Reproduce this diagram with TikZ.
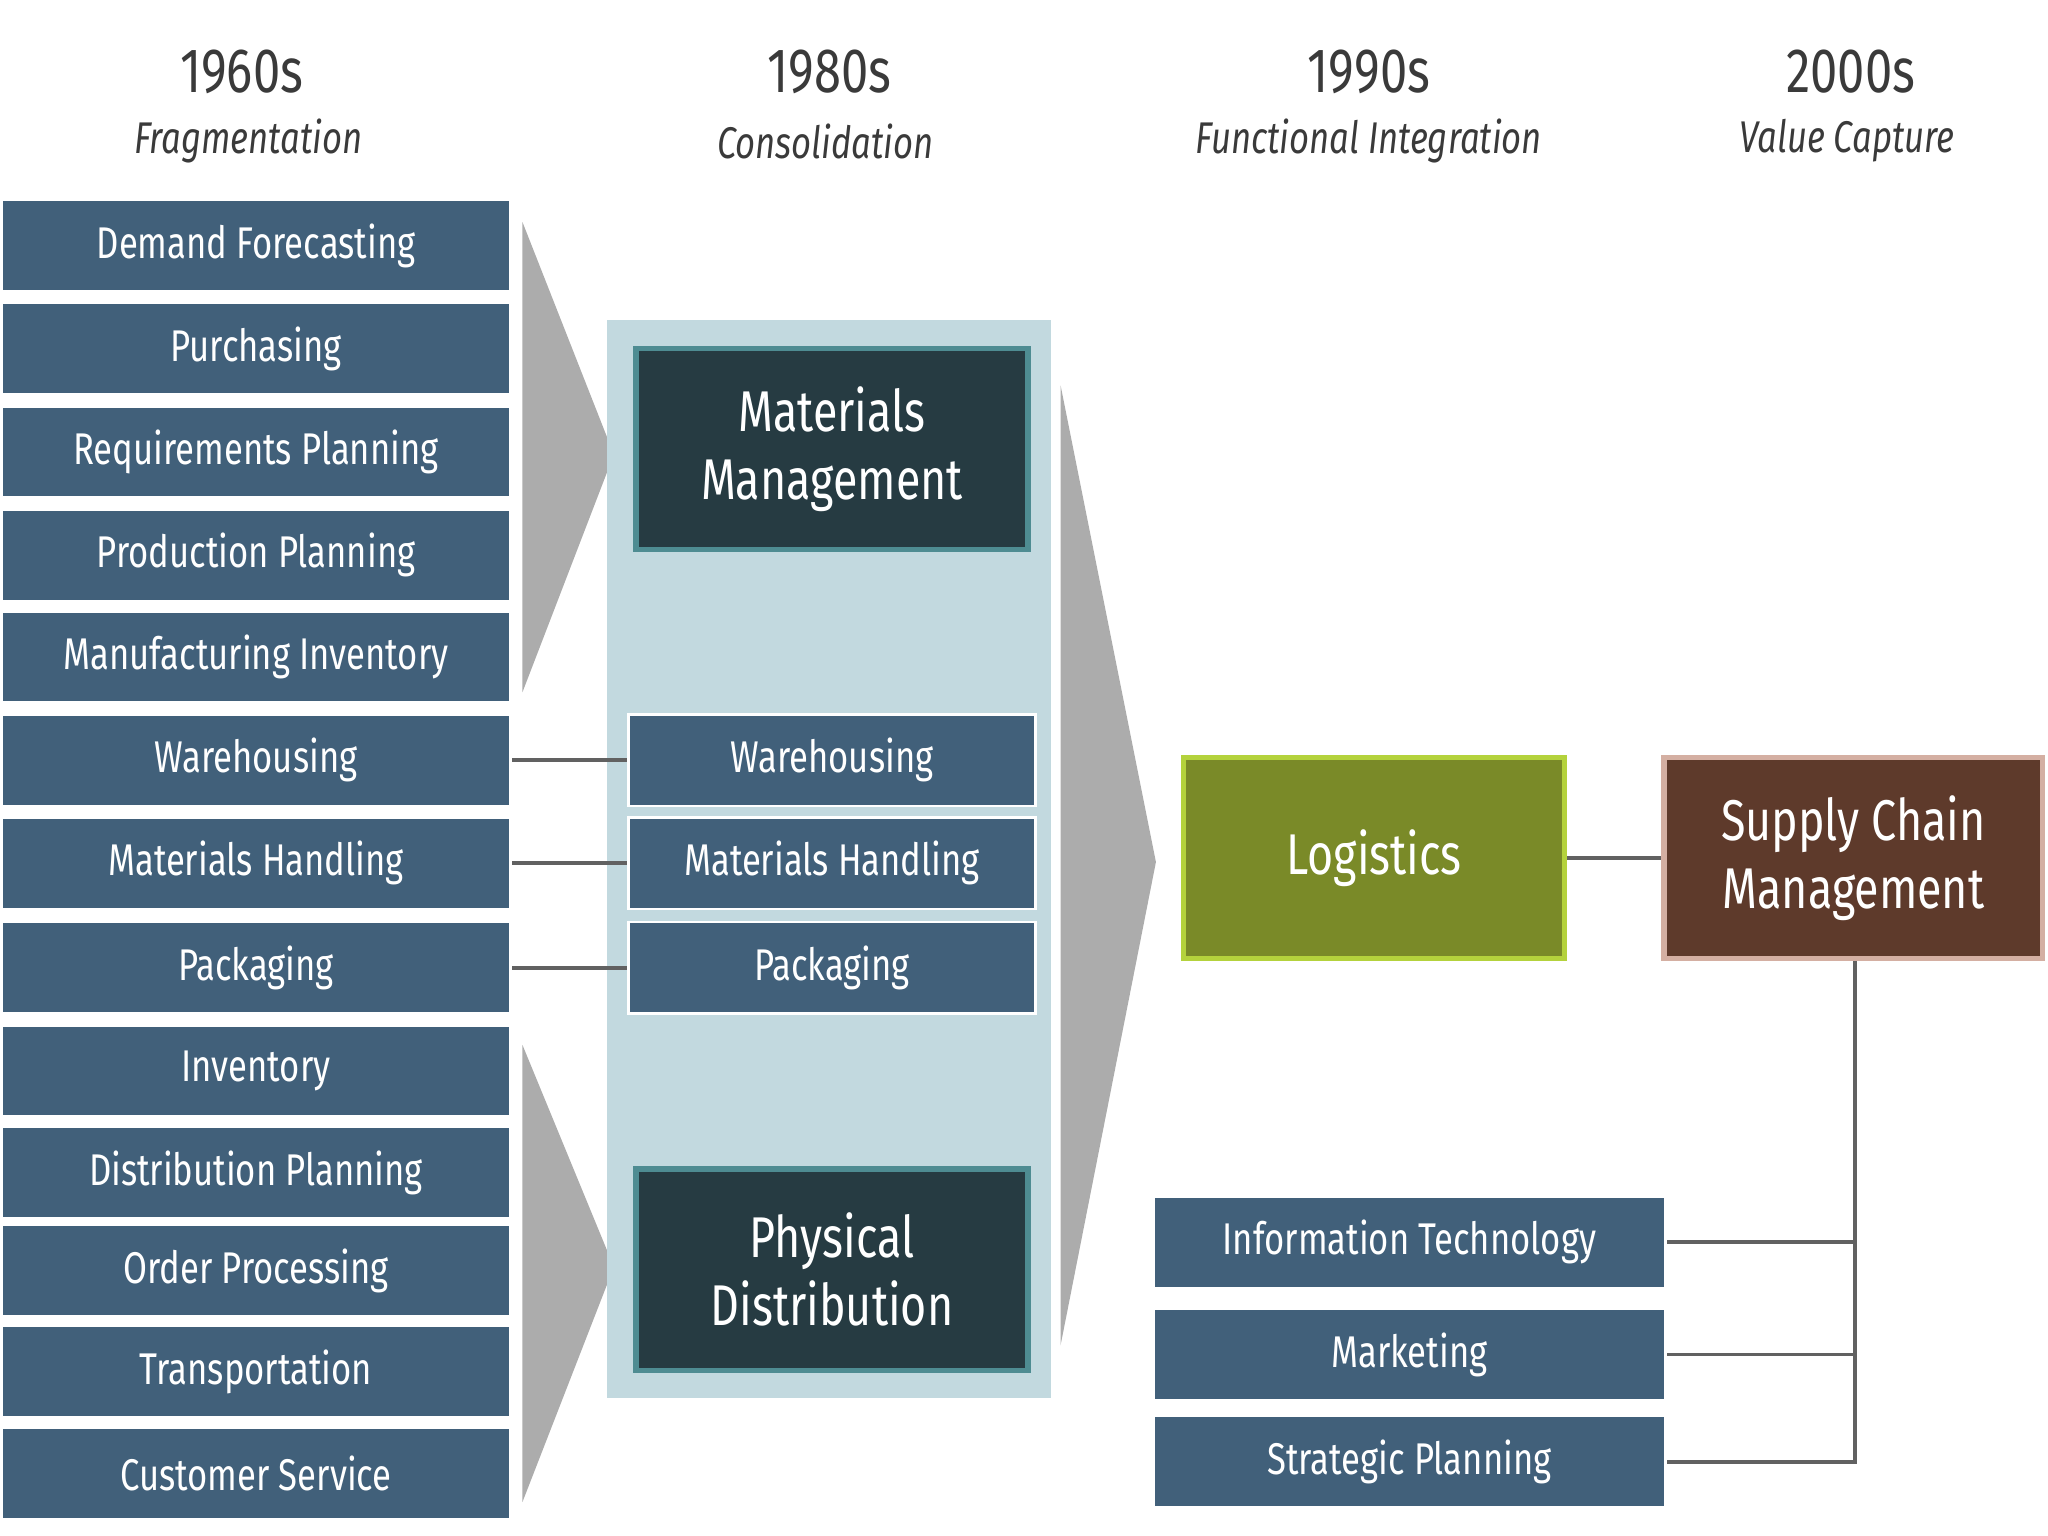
\documentclass[tikz,border=0pt]{standalone}
\usepackage{fontspec}
\setmainfont{Fira Sans}[FakeStretch=0.78]
\definecolor{blu}{HTML}{41607A}
\definecolor{pan}{HTML}{C2D9DF}
\definecolor{dk}{HTML}{263B42}
\definecolor{tl}{HTML}{4E8C92}
\definecolor{olv}{HTML}{7A8A28}
\definecolor{olb}{HTML}{B4D23C}
\definecolor{brn}{HTML}{5E3A2B}
\definecolor{brb}{HTML}{D4AFA2}
\definecolor{hd}{HTML}{3A3A3A}
\begin{document}
\begin{tikzpicture}[x=0.5pt,y=-0.5pt,
 bx/.style={fill=blu,draw=white,line width=1pt,text=white,font=\fontsize{17}{19}\selectfont},
 big/.style={fill=dk,draw=tl,line width=2pt,text=white,align=center,font=\fontsize{22}{26}\selectfont},
 hdr/.style={text=hd,font=\fontsize{24}{26}\selectfont},
 sub/.style={text=hd,font=\fontsize{17}{19}\itshape\selectfont},
 ln/.style={draw=hd!80,line width=1.5pt},
 chev/.style={fill=gray!65,draw=none}]
\useasboundingbox (0,0) rectangle (1568,1176);
\node[hdr] (h1) at (185,55) {1960s}; \node[sub] (s1) at (190,108) {Fragmentation};
\node[hdr] (h2) at (635,55) {1980s}; \node[sub] (s2) at (632,108) {Consolidation};
\node[hdr] (h3) at (1048,55) {1990s}; \node[sub] (s3) at (1048,108) {Functional Integration};
\node[hdr] (h4) at (1417,55) {2000s}; \node[sub] (s4) at (1414,108) {Value Capture};
% left column
\foreach \n/\y/\t in {a/188/Demand Forecasting,b/267/Purchasing,c/346/Requirements Planning,d/425/Production Planning,e/503/Manufacturing Inventory,f/582/Warehousing,g/661/Materials Handling,h/741/Packaging,i/820/Inventory,j/898/Distribution Planning,k/973/Order Processing,l/1050/Transportation,m/1128/Customer Service}
  \node[bx,minimum width=195pt,minimum height=35pt] (\n) at (196,\y) {\t};
\fill[chev] (400,170) -- (470,348) -- (400,530) -- cycle;
\fill[chev] (400,800) -- (470,970) -- (400,1150) -- cycle;
\fill[chev] (812,295) -- (885,660) -- (812,1030) -- cycle;
\fill[pan] (465,245) rectangle (805,1070);
\node[big,minimum width=150pt,minimum height=77pt] (mm) at (637,344) {Materials\\Management};
\node[big,minimum width=150pt,minimum height=77pt] (pd) at (637,972) {Physical\\Distribution};
\node[bx,minimum width=156pt,minimum height=35pt] (f2) at (637,582) {Warehousing};
\node[bx,minimum width=156pt,minimum height=35pt] (g2) at (637,661) {Materials Handling};
\node[bx,minimum width=156pt,minimum height=35pt] (h2b) at (637,741) {Packaging};
\draw[ln] (f) -- (f2); \draw[ln] (g) -- (g2); \draw[ln] (h) -- (h2b);
\node[fill=olv,draw=olb,line width=2pt,text=white,minimum width=146pt,minimum height=77pt,font=\fontsize{22}{26}\selectfont] (lg) at (1052,657) {Logistics};
\node[fill=brn,draw=brb,line width=2pt,text=white,align=center,minimum width=145pt,minimum height=77pt,font=\fontsize{22}{26}\selectfont] (scm) at (1419,657) {Supply Chain\\Management};
\draw[ln] (lg) -- (scm);
\node[bx,minimum width=196pt,minimum height=35pt] (it) at (1079,951) {Information Technology};
\node[bx,minimum width=196pt,minimum height=35pt] (mk) at (1079,1037) {Marketing};
\node[bx,minimum width=196pt,minimum height=35pt] (sp) at (1079,1119) {Strategic Planning};
\coordinate (c1) at (1420,951); \coordinate (c2) at (1420,1037); \coordinate (c3) at (1420,1119);
\draw[ln] (scm.south -| c1) -- (c3) -- (sp.east);
\draw[ln] (c1) -- (it.east); \draw[ln] (c2) -- (mk.east);
\end{tikzpicture}
\end{document}
